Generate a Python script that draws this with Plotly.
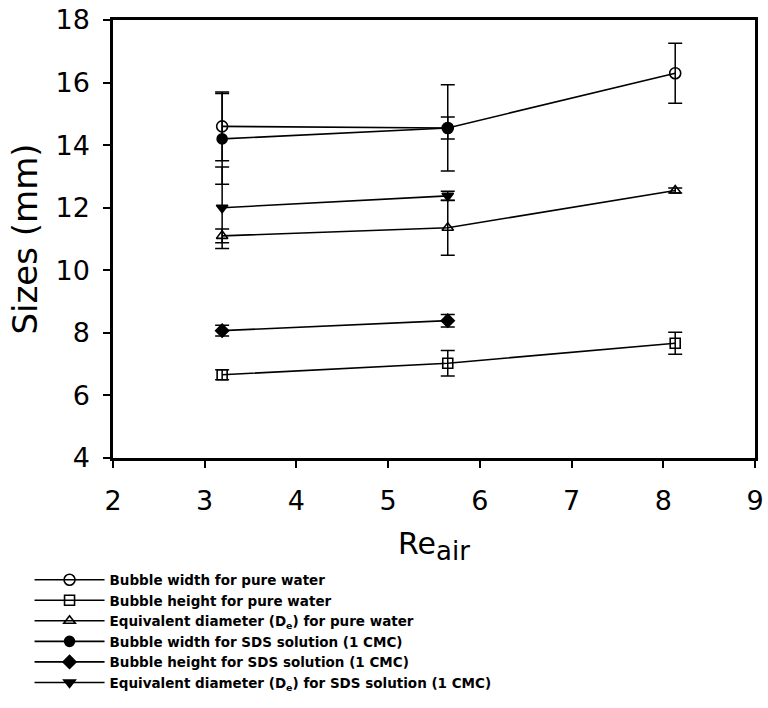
import plotly.graph_objects as go

# Data (Re_air on x, sizes in mm on y)
re_air_3 = [3.19, 5.65, 8.13]
re_air_2 = [3.19, 5.65]

width_water = [14.6, 14.55, 16.3]
width_water_err = [1.1, 1.38, 0.96]

height_water = [6.66, 7.03, 7.67]
height_water_err = [0.16, 0.41, 0.35]

deq_water = [11.1, 11.36, 12.55]
deq_water_err = [0.22, 0.88, 0.08]

width_sds = [14.2, 14.55]
width_sds_err = [1.45, 0.35]

height_sds = [8.07, 8.39]
height_sds_err = [0.17, 0.2]

deq_sds = [12.0, 12.38]
deq_sds_err = [1.3, 0.15]

names = [
    "Bubble width for pure water",
    "Bubble height for pure water",
    "Equivalent diameter (D<sub>e</sub>) for pure water",
    "Bubble width for SDS solution (1 CMC)",
    "Bubble height for SDS solution (1 CMC)",
    "Equivalent diameter (D<sub>e</sub>) for SDS solution (1 CMC)",
]

FONT = "DejaVu Sans"

series = [
    (re_air_3, width_water, width_water_err, "circle-open", 11),
    (re_air_3, height_water, height_water_err, "square-open", 10),
    (re_air_3, deq_water, deq_water_err, "triangle-up-open", 10),
    (re_air_2, width_sds, width_sds_err, "circle", 10),
    (re_air_2, height_sds, height_sds_err, "diamond", 10),
    (re_air_2, deq_sds, deq_sds_err, "triangle-down", 10),
]

fig = go.Figure()
for (xs, ys, es, sym, sz), nm in zip(series, names):
    fig.add_trace(go.Scatter(
        x=xs, y=ys, name=nm, mode="lines+markers",
        line=dict(color="black", width=1.6),
        marker=dict(symbol=sym, size=sz, color="black",
                    line=dict(color="black", width=1.6)),
        error_y=dict(type="data", array=es, visible=True,
                     color="black", thickness=1.5, width=7),
    ))

fig.update_layout(
    width=768, height=708,
    paper_bgcolor="white", plot_bgcolor="white",
    margin=dict(l=113, r=13, t=20, b=250, autoexpand=False),
    font=dict(family=FONT, color="black"),
    showlegend=True,
    legend=dict(
        x=-0.13, y=-0.243, xanchor="left", yanchor="top",
        bgcolor="rgba(0,0,0,0)", borderwidth=0,
        font=dict(family=FONT, size=13.5, color="black", weight="bold"),
        itemwidth=70, tracegroupgap=0,
    ),
)

fig.update_xaxes(
    range=[2, 9], tickmode="array", tickvals=[2, 3, 4, 5, 6, 7, 8, 9],
    showline=True, linecolor="black", linewidth=2.5, mirror=True,
    ticks="outside", ticklen=7, tickwidth=1.5, tickcolor="black",
    tickfont=dict(family=FONT, size=27, color="black"),
    ticklabelstandoff=10, automargin=False,
    showgrid=False, zeroline=False,
    title=dict(text="Re<sub><span style='font-size:26px'>air</span></sub>",
               font=dict(family=FONT, size=30, color="black"), standoff=18),
)
fig.update_yaxes(
    range=[4, 18], tickmode="array", tickvals=[4, 6, 8, 10, 12, 14, 16, 18],
    showline=True, linecolor="black", linewidth=2.5, mirror=True,
    ticks="outside", ticklen=7, tickwidth=1.5, tickcolor="black",
    tickfont=dict(family=FONT, size=27, color="black"),
    ticklabelstandoff=8, automargin=False,
    showgrid=False, zeroline=False,
    title=dict(text="Sizes (mm)", font=dict(family=FONT, size=34, color="black"),
               standoff=8),
)

fig.write_html("out.html")
